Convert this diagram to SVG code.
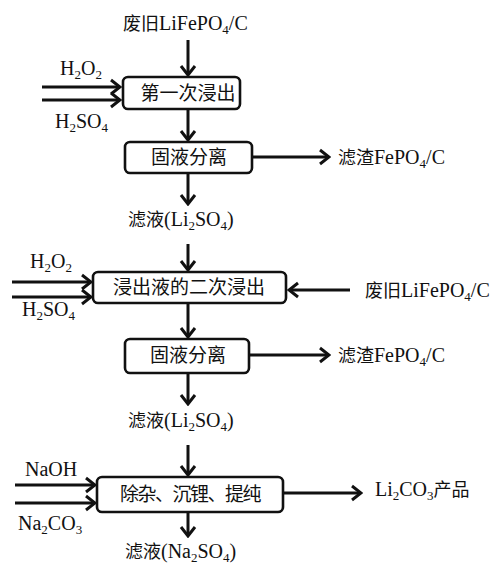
<svg xmlns="http://www.w3.org/2000/svg" width="496" height="565" viewBox="0 0 496 565">
<style>
text{font-family:"Liberation Serif","Noto Sans CJK SC",serif;font-size:20px;fill:#111}
.c{text-anchor:middle;font-size:19px}
.s{font-size:13px}
.z{font-size:18px}
.box{fill:#fff;stroke:#111;stroke-width:2.6}
.ln{stroke:#111;stroke-width:3;fill:none;marker-end:url(#ah)}
</style>
<defs>
<marker id="ah" viewBox="-12 -10 14 20" refX="0" refY="0" markerWidth="14" markerHeight="20" markerUnits="userSpaceOnUse" orient="auto">
<path d="M-9,-7 L0,0 L-9,7" fill="none" stroke="#111" stroke-width="3" stroke-linejoin="miter"/>
</marker>
</defs>
<rect width="496" height="565" fill="#fff"/>
<g id="connectors">
<line class="ln" x1="188" y1="40" x2="188" y2="75"/>
<line class="ln" x1="42" y1="87" x2="120" y2="87"/>
<line class="ln" x1="42" y1="100" x2="120" y2="100"/>
<line class="ln" x1="188" y1="109" x2="188" y2="140"/>
<line class="ln" x1="252" y1="157" x2="329" y2="157"/>
<line class="ln" x1="188" y1="173" x2="188" y2="204"/>
<line class="ln" x1="188" y1="244" x2="188" y2="270"/>
<line class="ln" x1="12" y1="282" x2="91" y2="282"/>
<line class="ln" x1="12" y1="297" x2="91" y2="297"/>
<line class="ln" x1="350" y1="290" x2="289" y2="290"/>
<line class="ln" x1="188" y1="303" x2="188" y2="337"/>
<line class="ln" x1="249" y1="355" x2="329" y2="355"/>
<line class="ln" x1="188" y1="373" x2="188" y2="404"/>
<line class="ln" x1="188" y1="445" x2="188" y2="475"/>
<line class="ln" x1="15" y1="485" x2="95" y2="485"/>
<line class="ln" x1="15" y1="503" x2="95" y2="503"/>
<line class="ln" x1="283" y1="493" x2="361" y2="493"/>
<line class="ln" x1="188" y1="512" x2="188" y2="536"/>
</g>
<g id="n-input1"><text x="123" y="30"><tspan class="z">废旧</tspan>LiFePO<tspan class="s" dy="4">4</tspan><tspan dy="-4">/C</tspan></text></g>
<g id="n-h2o2-1"><text x="60" y="75">H<tspan class="s" dy="4">2</tspan><tspan dy="-4">O</tspan><tspan class="s" dy="4">2</tspan></text></g>
<g id="n-h2so4-1"><text x="55" y="128">H<tspan class="s" dy="4">2</tspan><tspan dy="-4">SO</tspan><tspan class="s" dy="4">4</tspan></text></g>
<g id="n-leach1"><rect class="box" x="123" y="77" width="117" height="32" rx="5"/><text class="c" x="188" y="100">第一次浸出</text></g>
<g id="n-sep1"><rect class="box" x="125" y="142" width="127" height="31" rx="5"/><text class="c" x="189" y="164">固液分离</text></g>
<g id="n-residue1"><text x="338" y="164"><tspan class="z">滤渣</tspan>FePO<tspan class="s" dy="4">4</tspan><tspan dy="-4">/C</tspan></text></g>
<g id="n-filtrate1"><text x="128" y="226"><tspan class="z">滤液</tspan>(Li<tspan class="s" dy="4">2</tspan><tspan dy="-4">SO</tspan><tspan class="s" dy="4">4</tspan><tspan dy="-4">)</tspan></text></g>
<g id="n-h2o2-2"><text x="30" y="268">H<tspan class="s" dy="4">2</tspan><tspan dy="-4">O</tspan><tspan class="s" dy="4">2</tspan></text></g>
<g id="n-h2so4-2"><text x="22" y="316">H<tspan class="s" dy="4">2</tspan><tspan dy="-4">SO</tspan><tspan class="s" dy="4">4</tspan></text></g>
<g id="n-leach2"><rect class="box" x="93" y="272" width="193" height="31" rx="5"/><text class="c" x="189" y="294">浸出液的二次浸出</text></g>
<g id="n-input2"><text x="365" y="297"><tspan class="z">废旧</tspan>LiFePO<tspan class="s" dy="4">4</tspan><tspan dy="-4">/C</tspan></text></g>
<g id="n-sep2"><rect class="box" x="125" y="339" width="124" height="34" rx="5"/><text class="c" x="188" y="362">固液分离</text></g>
<g id="n-residue2"><text x="338" y="362"><tspan class="z">滤渣</tspan>FePO<tspan class="s" dy="4">4</tspan><tspan dy="-4">/C</tspan></text></g>
<g id="n-filtrate2"><text x="128" y="427"><tspan class="z">滤液</tspan>(Li<tspan class="s" dy="4">2</tspan><tspan dy="-4">SO</tspan><tspan class="s" dy="4">4</tspan><tspan dy="-4">)</tspan></text></g>
<g id="n-naoh"><text x="25" y="476">NaOH</text></g>
<g id="n-na2co3"><text x="18" y="530">Na<tspan class="s" dy="4">2</tspan><tspan dy="-4">CO</tspan><tspan class="s" dy="4">3</tspan></text></g>
<g id="n-purify"><rect class="box" x="97" y="477" width="186" height="35" rx="5"/><text class="c" x="190" y="501" style="letter-spacing:-1.5px">除杂、沉锂、提纯</text></g>
<g id="n-product"><text x="375" y="496">Li<tspan class="s" dy="4">2</tspan><tspan dy="-4">CO</tspan><tspan class="s" dy="4">3</tspan><tspan class="z" dy="-4">产品</tspan></text></g>
<g id="n-filtrate3"><text x="125" y="558"><tspan class="z">滤液</tspan>(Na<tspan class="s" dy="4">2</tspan><tspan dy="-4">SO</tspan><tspan class="s" dy="4">4</tspan><tspan dy="-4">)</tspan></text></g>
</svg>
